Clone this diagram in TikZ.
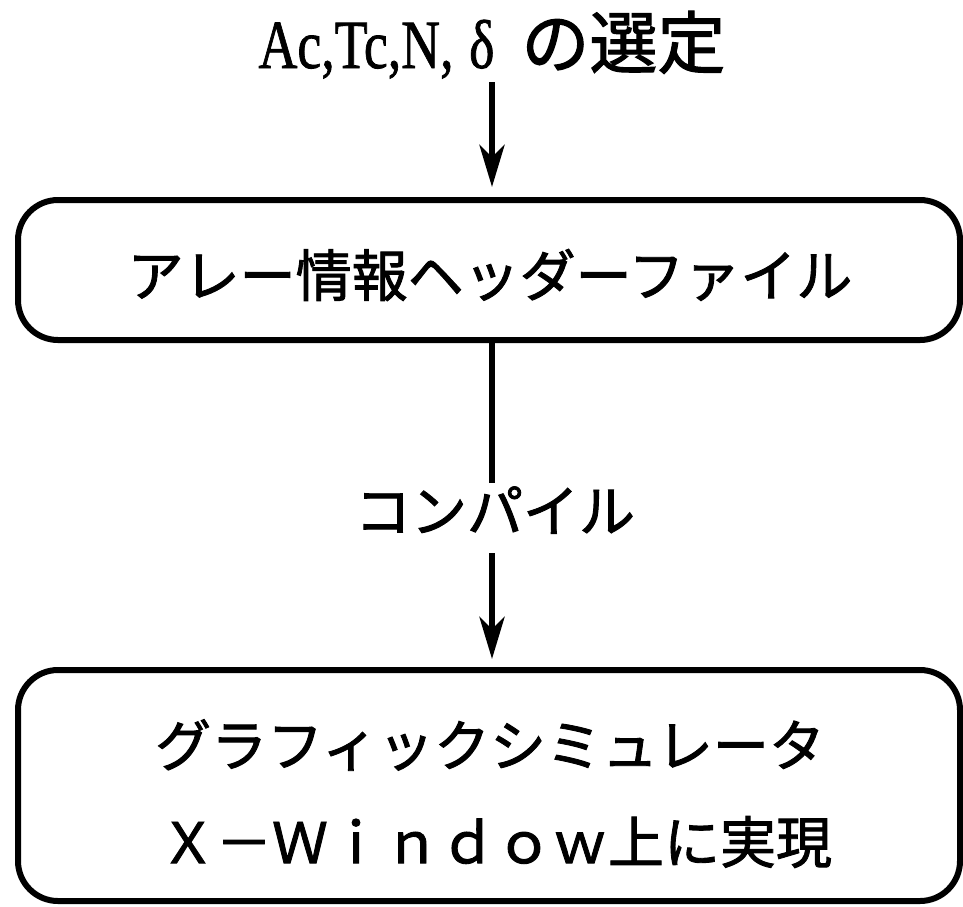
\documentclass[tikz,border=0pt]{standalone}
\usepackage{fontspec}
\setmainfont{Liberation Serif}
\newfontfamily\lat[FakeBold=1.2]{Liberation Serif}
\newfontfamily\jp[FakeBold=1.6]{Noto Sans CJK JP}
\usetikzlibrary{arrows.meta}
\tikzset{
  boxnode/.style={draw, line width=6pt, rounded corners=40pt, inner sep=0pt},
  conn/.style={line width=6pt},
  arr/.style={conn, -{Stealth[length=42pt,width=25pt,inset=12pt]}},
  jptext/.style={font=\jp\fontsize{56}{60}\selectfont, inner sep=0pt}
}
\begin{document}
\begin{tikzpicture}[x=1pt,y=-1pt]
\useasboundingbox (0,0) rectangle (963,906);
% top label
\node[inner sep=0pt, anchor=base] (t) at (492,68)
  {\scalebox{0.78}[1]{\lat\fontsize{69}{69}\selectfont Ac,Tc,N,\hspace{20pt}δ}\hspace{27pt}{\jp\fontsize{68}{68}\selectfont の選定}};
% box 1
\node[boxnode, minimum width=942pt, minimum height=140pt] (b1) at (489,270) {};
\node[jptext] (b1t) at (490,275) {アレー情報ヘッダーファイル};
% middle label
\node[jptext] (c) at (495,510) {コンパイル};
% box 2
\node[boxnode, minimum width=942pt, minimum height=231pt] (b2) at (489,785.5) {};
\node[jptext] (b2a) at (490,745) {グラフィックシミュレータ};
\node[jptext] (b2b) at (496,842) {Ｘ－Ｗｉｎｄｏｗ上に実現};
% connectors
\coordinate (a1) at (492,82);
\coordinate (m1) at (492,483);
\coordinate (m2) at (492,553);
\draw[arr, shorten >=10pt] (a1) -- (a1 |- b1.north);
\draw[conn] (b1.south -| m1) -- (m1);
\draw[arr, shorten >=8pt] (m2) -- (m2 |- b2.north);
\end{tikzpicture}
\end{document}
